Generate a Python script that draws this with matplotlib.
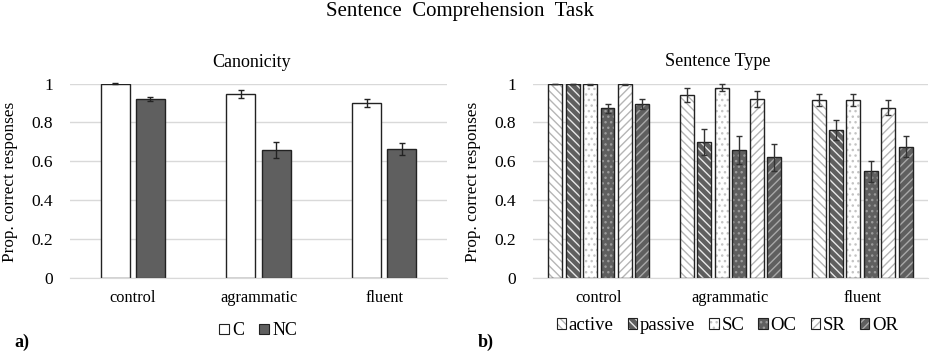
import numpy as np
import matplotlib
matplotlib.use('Agg')
import matplotlib.pyplot as plt
from matplotlib.patches import Patch
from matplotlib.legend_handler import HandlerTuple

plt.rcParams['font.family'] = ['Liberation Serif', 'DejaVu Serif']

groups = ['control', 'agrammatic', 'fluent']

# panel a) canonicity
canon_labels = ['C', 'NC']
canon_vals = [[1.0, 0.945, 0.90],
              [0.92, 0.658, 0.662]]
canon_err = [[0.002, 0.02, 0.02],
             [0.012, 0.04, 0.032]]

# panel b) sentence type
type_labels = ['active', 'passive', 'SC', 'OC', 'SR', 'OR']
type_vals = [[1.0, 0.94, 0.915],
             [1.0, 0.697, 0.761],
             [0.995, 0.979, 0.915],
             [0.872, 0.658, 0.549],
             [0.995, 0.92, 0.875],
             [0.894, 0.62, 0.675]]
type_err = [[0.0, 0.035, 0.03],
            [0.0, 0.067, 0.05],
            [0.003, 0.02, 0.03],
            [0.022, 0.072, 0.055],
            [0.003, 0.04, 0.038],
            [0.025, 0.069, 0.055]]

dark = '#5f5f5f'
grid = '#d9d9d9'
# fill, hatch, hatch colour
type_styles = [('white', '\\\\\\\\', '#b5b5b5'),
               (dark, '\\\\\\\\', '#e8e8e8'),
               ('white', '...', '#c4c4c4'),
               (dark, '...', '#9a9a9a'),
               ('white', '////', '#b5b5b5'),
               (dark, '////', '#a8a8a8')]

fig = plt.figure(figsize=(9.3, 3.57), dpi=100)
ax1 = fig.add_axes([0.0753, 0.2213, 0.4054, 0.5448])
ax2 = fig.add_axes([0.5731, 0.2213, 0.4247, 0.5448])


def style_axis(ax):
    ax.set_ylim(0, 1)
    ax.set_xlim(-0.5, 2.5)
    ax.set_yticks(np.arange(0, 1.01, 0.2))
    ax.set_yticklabels(['0', '0.2', '0.4', '0.6', '0.8', '1'], fontsize=12.5)
    ax.set_xticks(range(3))
    ax.set_xticklabels(groups, fontsize=11.8)
    ax.tick_params(axis='both', length=0)
    ax.tick_params(axis='y', pad=12)
    ax.tick_params(axis='x', pad=9)
    for s in ['top', 'right', 'left']:
        ax.spines[s].set_visible(False)
    ax.spines['bottom'].set_color(grid)
    ax.yaxis.grid(True, color=grid, linewidth=1)
    ax.set_axisbelow(True)


x = np.arange(len(groups))

# panel a
style_axis(ax1)
w1 = 0.23
handles1 = []
for i, lab in enumerate(canon_labels):
    fc = 'white' if i == 0 else dark
    pos = x + (i - 0.5) * 0.28
    ax1.bar(pos, canon_vals[i], w1, color=fc, edgecolor='#222222', linewidth=1, zorder=2)
    ax1.errorbar(pos, canon_vals[i], yerr=canon_err[i], fmt='none', ecolor='#222222',
                 elinewidth=1, capsize=2.5, capthick=1, zorder=3, clip_on=False)
    handles1.append(Patch(facecolor=fc, edgecolor='#222222', linewidth=0.8))
ax1.legend(handles1, canon_labels, loc='center', bbox_to_anchor=(0.2774, 0.073),
           bbox_transform=fig.transFigure, ncol=2, frameon=False, fontsize=13,
           handlelength=0.55, handleheight=0.55, handletextpad=0.2, columnspacing=0.8)

# panel b
style_axis(ax2)
w2 = 0.106
pitch = 0.132
handles2 = []
for i, lab in enumerate(type_labels):
    fc, hatch, hc = type_styles[i]
    pos = x + (i - 2.5) * pitch
    ax2.bar(pos, type_vals[i], w2, color=fc, hatch=hatch, edgecolor=hc, linewidth=0, zorder=2)
    ax2.bar(pos, type_vals[i], w2, fill=False, edgecolor='#222222', linewidth=1, zorder=2)
    ax2.errorbar(pos, type_vals[i], yerr=type_err[i], fmt='none', ecolor='#333333',
                 elinewidth=1, capsize=2.5, capthick=1, zorder=3, clip_on=False)
    h_fill = Patch(facecolor=fc, hatch=hatch, edgecolor=hc, linewidth=0)
    h_edge = Patch(fill=False, edgecolor='#222222', linewidth=0.8)
    handles2.append((h_fill, h_edge))
ax2.legend(handles2, type_labels, loc='center', bbox_to_anchor=(0.782, 0.087),
           bbox_transform=fig.transFigure, ncol=6, frameon=False, fontsize=13.5,
           handlelength=0.5, handleheight=0.5, handletextpad=0.15, columnspacing=0.75,
           handler_map={tuple: HandlerTuple(ndivide=1, pad=0)})

# titles and labels
fig.text(0.4946, 0.969, 'Sentence  Comprehension  Task', ha='center', va='center', fontsize=15)
fig.text(0.271, 0.826, 'Canonicity', ha='center', va='center', fontsize=13)
fig.text(0.772, 0.828, 'Sentence Type', ha='center', va='center', fontsize=13)
fig.text(0.011, 0.49, 'Prop. correct responses', rotation=90, ha='center', va='center', fontsize=12.4)
fig.text(0.509, 0.49, 'Prop. correct responses', rotation=90, ha='center', va='center', fontsize=12.4)
fig.text(0.024, 0.04, 'a)', ha='center', va='center', fontsize=13, fontweight='bold')
fig.text(0.522, 0.04, 'b)', ha='center', va='center', fontsize=13, fontweight='bold')

fig.savefig('out.png', dpi=100, facecolor='white')
